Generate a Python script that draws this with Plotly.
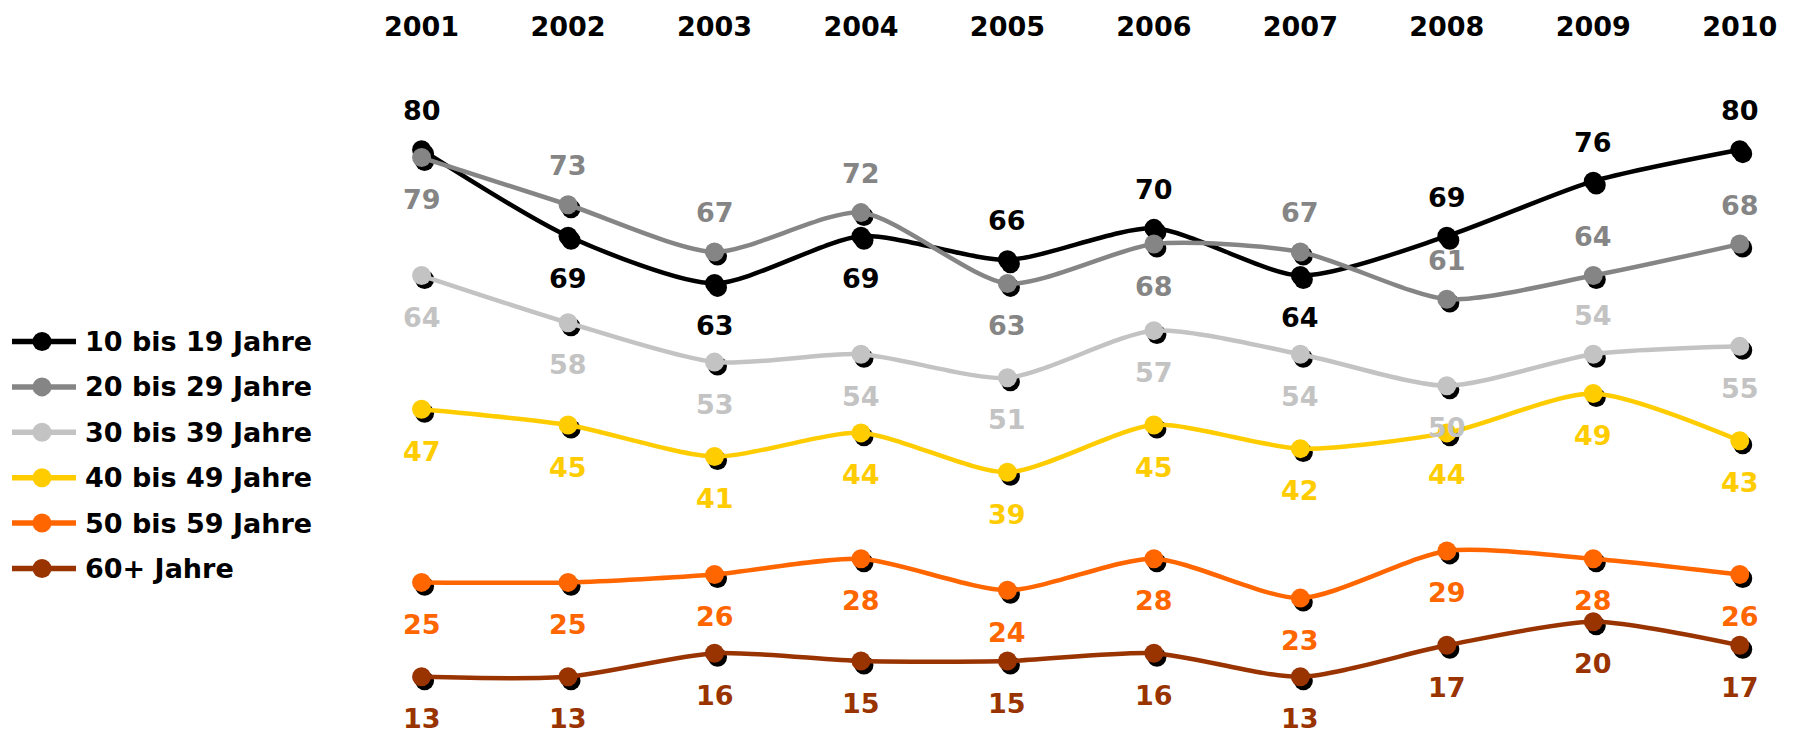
import plotly.graph_objects as go

# ---- data -------------------------------------------------------------
years = [2001, 2002, 2003, 2004, 2005, 2006, 2007, 2008, 2009, 2010]

age_groups = ["10 bis 19 Jahre", "20 bis 29 Jahre", "30 bis 39 Jahre",
              "40 bis 49 Jahre", "50 bis 59 Jahre", "60+ Jahre"]

v_10_19 = [80, 69, 63, 69, 66, 70, 64, 69, 76, 80]
v_20_29 = [79, 73, 67, 72, 63, 68, 67, 61, 64, 68]
v_30_39 = [64, 58, 53, 54, 51, 57, 54, 50, 54, 55]
v_40_49 = [47, 45, 41, 44, 39, 45, 42, 44, 49, 43]
v_50_59 = [25, 25, 26, 28, 24, 28, 23, 29, 28, 26]
v_60_plus = [13, 13, 16, 15, 15, 16, 13, 17, 20, 17]

series_values = [v_10_19, v_20_29, v_30_39, v_40_49, v_50_59, v_60_plus]

# ---- styling ----------------------------------------------------------
colors = ["#000000", "#858585", "#C3C3C3", "#FFCC00", "#FF6600", "#993300"]

# value label placement per point: "u" above the marker, "d" below it
label_side = [
    ["u", "d", "d", "d", "u", "u", "d", "u", "u", "u"],
    ["d", "u", "u", "u", "d", "d", "u", "u", "u", "u"],
    ["d", "d", "d", "d", "d", "d", "d", "d", "u", "d"],
    ["d"] * 10,
    ["d"] * 10,
    ["d"] * 10,
]

FONT = "DejaVu Sans"
FS = 27
W, H = 1802, 738
M_L, M_R, M_T, M_B = 363, 11, 65, 14
PW, PH = W - M_L - M_R, H - M_T - M_B

X_RANGE = [2000.6, 2010.35]
Y_RANGE = [7, 90]
px_per_year = PW / (X_RANGE[1] - X_RANGE[0])
px_per_unit = PH / (Y_RANGE[1] - Y_RANGE[0])

# drop shadow of the markers: same data on a second axis pair whose
# ranges are nudged so the points land a few pixels right and down
SH_DX, SH_DY = 3, 4
shadow_x = [X_RANGE[0] - SH_DX / px_per_year, X_RANGE[1] - SH_DX / px_per_year]
shadow_y = [Y_RANGE[0] + SH_DY / px_per_unit, Y_RANGE[1] + SH_DY / px_per_unit]

fig = go.Figure()

for vals in series_values:
    fig.add_trace(go.Scatter(
        x=years, y=vals, mode="markers", xaxis="x", yaxis="y",
        marker=dict(size=19, color="#000000"),
        showlegend=False, hoverinfo="skip",
    ))

for name, vals, col in zip(age_groups, series_values, colors):
    fig.add_trace(go.Scatter(
        x=years, y=vals, name=name, mode="lines+markers",
        xaxis="x2", yaxis="y2",
        line=dict(color=col, width=4.5, shape="spline", smoothing=0.7),
        marker=dict(size=19, color=col),
        showlegend=False,
    ))

annotations = []
for vals, col, sides in zip(series_values, colors, label_side):
    for yr, v, s in zip(years, vals, sides):
        annotations.append(dict(
            x=yr, y=v, xref="x2", yref="y2", text=str(v), showarrow=False,
            xanchor="center", yanchor="middle",
            yshift=39 if s == "u" else -42,
            font=dict(family=FONT, size=FS, color=col, weight="bold"),
        ))

# ---- legend on the left --------------------------------------------------
def paper_x(px):
    return (px - M_L) / PW


def paper_y(py):
    return 1 - (py - M_T) / PH


shapes = []
row0, row_step = 338, 45.8
for i, (name, col) in enumerate(zip(age_groups, colors)):
    ry = paper_y(row0 + i * row_step)
    shapes.append(dict(
        type="line", xref="paper", yref="paper",
        x0=paper_x(12), x1=paper_x(76), y0=ry, y1=ry,
        line=dict(color=col, width=5.5),
    ))
    shapes.append(dict(
        type="circle", xref="paper", yref="paper",
        xsizemode="pixel", ysizemode="pixel",
        xanchor=paper_x(42), yanchor=ry,
        x0=-9.5, x1=9.5, y0=-9.5, y1=9.5,
        fillcolor=col, line=dict(width=0),
    ))
    annotations.append(dict(
        x=paper_x(83), y=ry, xref="paper", yref="paper", text=name,
        showarrow=False, xanchor="left", yanchor="middle",
        font=dict(family=FONT, size=FS, color="#000000", weight="bold"),
    ))

hidden = dict(showgrid=False, zeroline=False, showline=False,
              showticklabels=False, ticks="")

fig.update_layout(
    width=W, height=H,
    margin=dict(l=M_L, r=M_R, t=M_T, b=M_B, pad=0),
    paper_bgcolor="white", plot_bgcolor="white",
    showlegend=False,
    xaxis=dict(range=shadow_x, **hidden),
    yaxis=dict(range=shadow_y, **hidden),
    xaxis2=dict(
        range=X_RANGE, overlaying="x", side="top",
        tickmode="array", tickvals=years, ticktext=[str(y) for y in years],
        ticks="outside", ticklen=23, tickcolor="rgba(0,0,0,0)",
        showgrid=False, zeroline=False, showline=False,
        tickfont=dict(family=FONT, size=FS, color="#000000", weight="bold"),
    ),
    yaxis2=dict(range=Y_RANGE, overlaying="y", **hidden),
    annotations=annotations,
    shapes=shapes,
)

fig.write_html("out.html")
